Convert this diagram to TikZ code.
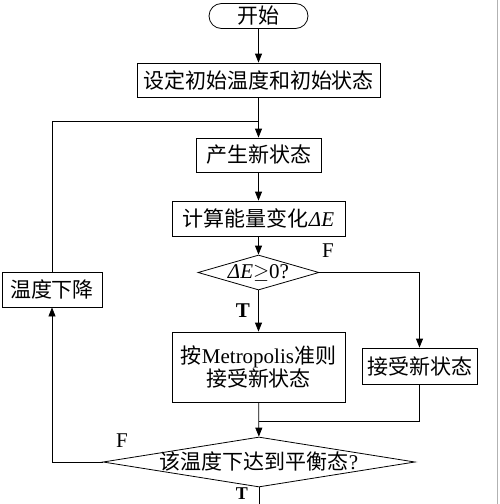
\documentclass[tikz,border=0pt]{standalone}
\usepackage{fontspec}
\setmainfont{Liberation Serif}
\newfontfamily\cjk{Noto Sans CJK SC}
\usetikzlibrary{arrows.meta,shapes.geometric,shapes.misc}
\begin{document}
\begin{tikzpicture}[x=1pt,y=-1pt,
  every node/.style={font=\fontsize{21pt}{24pt}\selectfont},
  procbox/.style={draw, line width=0.8pt, rectangle, inner sep=0pt, align=center},
  decbox/.style={draw, line width=0.8pt, diamond, inner sep=0pt},
  termbox/.style={draw, line width=0.8pt, rounded rectangle, inner sep=0pt},
  conn/.style={line width=0.8pt},
  arr/.style={conn, -{Triangle[length=9pt,width=7pt]}},
  lab/.style={font=\fontsize{21pt}{24pt}\selectfont}
]
\useasboundingbox (0,0) rectangle (500,504);
\fill[white] (0,0) rectangle (500,504);
\draw[gray!60, line width=0.8pt] (497,0) -- (497,504);

\node[termbox, minimum width=99pt, minimum height=25pt] (start) at (258.5,16) {\cjk 开始};
\node[procbox, minimum width=243pt, minimum height=34pt] (init) at (258.5,80) {\cjk 设定初始温度和初始状态};
\node[procbox, minimum width=125pt, minimum height=34pt] (gen) at (258.5,155) {\cjk 产生新状态};
\node[procbox, minimum width=173pt, minimum height=35pt] (calc) at (258.5,218.5) {{\cjk 计算能量变化}\textit{ΔE}};
\node[decbox, minimum width=121pt, minimum height=35pt] (d1) at (258.5,272.5) {\makebox[0pt]{\textit{ΔE}$\geq$0?}};
\node[procbox, minimum width=173pt, minimum height=70pt] (metro) at (258.5,367) {{\cjk 按}Metropolis{\cjk 准则}\\[-1pt]{\cjk 接受新状态}};
\node[procbox, minimum width=115pt, minimum height=36pt] (acc) at (419.5,366) {\cjk 接受新状态};
\node[decbox, minimum width=312pt, minimum height=50pt] (d2) at (259,462) {\makebox[0pt]{{\cjk 该温度下达到平衡态}?}};
\node[procbox, minimum width=100pt, minimum height=35pt] (cool) at (52,289.5) {\cjk 温度下降};

\coordinate (jtop) at (258.5,121);
\coordinate (merge) at (258.5,421);
\coordinate (bottom) at (259,504);

\draw[arr] (start) -- (init);
\draw[arr] (init) -- (gen);
\draw[arr] (gen) -- (calc);
\draw[arr] (calc) -- (d1);
\draw[arr] (d1) -- (metro);
\draw[arr] (d1.east) -| (acc.north);
\draw[arr] (metro) -- (d2);
\draw[conn] (acc.south) |- (merge);
\draw[arr] (d2.west) -| (cool.south);
\draw[conn] (cool.north) |- (jtop);
\draw[conn] (d2.south) -- (bottom);

\node[lab] (fa) at (328,251) {F};
\node[lab] (ta) at (243,311) {\bfseries T};
\node[lab] (fb) at (122,441) {F};
\node[lab, inner sep=0pt, anchor=base, font=\fontsize{18pt}{20pt}\selectfont] (tb) at (242,499) {\bfseries T};
\end{tikzpicture}
\end{document}
